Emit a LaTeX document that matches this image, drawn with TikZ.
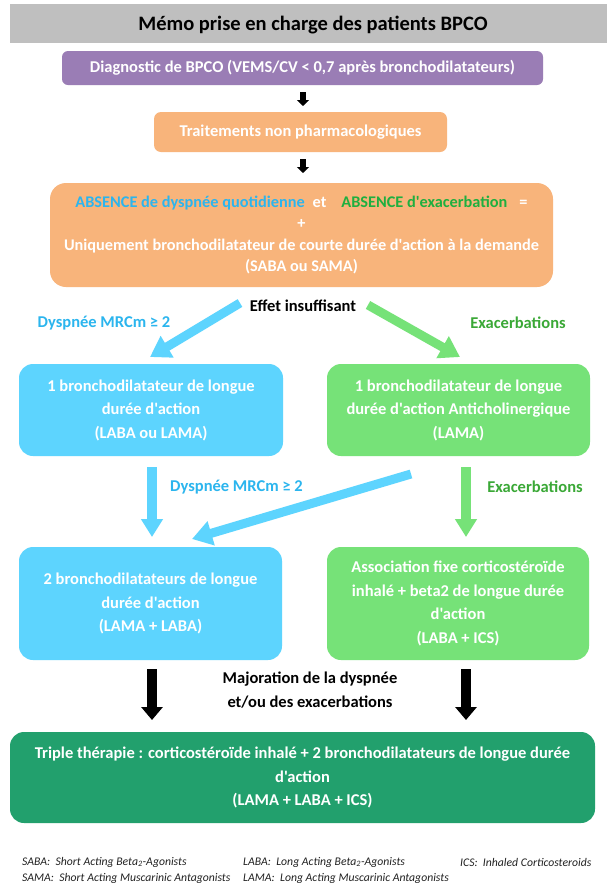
\documentclass[tikz,border=0pt]{standalone}
\usepackage{fontspec}
\setmainfont{Carlito}[Ligatures=TeXOff]
\usetikzlibrary{arrows.meta}
\definecolor{bandgray}{HTML}{BFBFBF}
\definecolor{purplebox}{HTML}{9A7DB5}
\definecolor{orangebox}{HTML}{F8B47B}
\definecolor{bluebox}{HTML}{5DD4FE}
\definecolor{greenbox}{HTML}{76E278}
\definecolor{darkgreen}{HTML}{22A06D}
\definecolor{bluetxt}{HTML}{2BB5EE}
\definecolor{greentxt}{HTML}{1FAF3F}
\definecolor{labgreen}{HTML}{3AA836}
\definecolor{notegray}{HTML}{222222}
\newcommand{\mybodyfont}{\fontsize{16.5}{23.5}\selectfont\bfseries}
\begin{document}
\begin{tikzpicture}[x=1pt,y=-1pt,
  boxbase/.style={draw=none, align=center, inner sep=0pt, text=white, font=\mybodyfont},
  lbl/.style={inner sep=0pt, font=\fontsize{16.5}{23.5}\selectfont\bfseries},
  note/.style={inner sep=0pt, anchor=west, text=notegray, font=\fontsize{11.7}{13}\selectfont\itshape},
  smallarrow/.style={draw=black, line width=6pt, -{Triangle[width=12pt,length=6pt]}},
  bigdown/.style={line width=10pt, -{Triangle[width=21pt,length=18pt]}},
  blackdown/.style={draw=black, line width=10pt, -{Triangle[width=21pt,length=13pt]}},
  diag/.style={line width=9pt, -{Triangle[width=24pt,length=20pt]}}
]
\useasboundingbox (0,0) rectangle (607,892);
\fill[white] (0,0) rectangle (607,892);

% title band
\node[fill=bandgray, minimum width=597pt, minimum height=39pt, inner sep=0pt] (band) at (308.5,23.5) {};
\node[inner sep=0pt, font=\fontsize{20.5}{22}\selectfont\bfseries] (title) at (313,25) {Mémo prise en charge des patients BPCO};

% boxes
\node[boxbase, fill=purplebox, rounded corners=6pt, minimum width=481pt, minimum height=34pt] (diag) at (302.5,68) {Diagnostic de BPCO (VEMS/CV < 0,7 après bronchodilatateurs)};
\node[boxbase, fill=orangebox, rounded corners=7pt, minimum width=293pt, minimum height=40pt] (nonph) at (300.5,132) {Traitements non pharmacologiques};
\node[boxbase, fill=orangebox, rounded corners=16pt, minimum width=503pt, minimum height=104pt, font=\fontsize{16.3}{21.3}\selectfont\bfseries] (saba) at (301.5,235)
  {{\color{bluetxt}ABSENCE de dyspnée quotidienne}\hspace{8pt}et\hspace{15pt}{\color{greentxt}ABSENCE d'exacerbation}\hspace{12pt}=\\ +\\ Uniquement bronchodilatateur de courte durée d'action à la demande\\ (SABA ou SAMA)};

\node[boxbase, fill=bluebox, rounded corners=14pt, minimum width=264pt, minimum height=92pt] (b1) at (151,410) {1 bronchodilatateur de longue\\ durée d'action\\ (LABA ou LAMA)};
\node[boxbase, fill=greenbox, rounded corners=14pt, minimum width=263pt, minimum height=92pt] (g1) at (458.5,410) {1 bronchodilatateur de longue\\ durée d'action Anticholinergique\\ (LAMA)};
\node[boxbase, fill=bluebox, rounded corners=14pt, minimum width=263pt, minimum height=113pt] (b2) at (150.5,603.5) {2 bronchodilatateurs de longue\\ durée d'action\\ (LAMA + LABA)};
\node[boxbase, fill=greenbox, rounded corners=14pt, minimum width=262pt, minimum height=113pt] (g2) at (458,603.5) {Association fixe corticostéroïde\\ inhalé + beta2 de longue durée\\ d'action\\ (LABA + ICS)};
\node[boxbase, fill=darkgreen, rounded corners=14pt, minimum width=585pt, minimum height=91pt] (triple) at (302.5,777.5) {Triple thérapie : corticostéroïde inhalé + 2 bronchodilatateurs de longue durée\\ d'action\\ (LAMA + LABA + ICS)};

% arrow end points
\coordinate (a1s) at (303,92);  \coordinate (a1e) at (303,106);
\coordinate (a2s) at (303,159); \coordinate (a2e) at (303,173);
\coordinate (bd1s) at (240,303); \coordinate (bd1e) at (150,357);
\coordinate (gd1s) at (368,305); \coordinate (gd1e) at (460,357);
\coordinate (bvs) at (152,467); \coordinate (bve) at (152,537);
\coordinate (gvs) at (466,467); \coordinate (gve) at (466,537);
\coordinate (bd2s) at (411,474); \coordinate (bd2e) at (192,539);
\coordinate (kls) at (152,669); \coordinate (kle) at (152,720);
\coordinate (krs) at (466,669); \coordinate (kre) at (466,720);

\draw[smallarrow] (a1s) -- (a1e);
\draw[smallarrow] (a2s) -- (a2e);
\draw[diag, draw=bluebox, fill=bluebox] (bd1s) -- (bd1e);
\draw[diag, draw=greenbox, fill=greenbox] (gd1s) -- (gd1e);
\draw[bigdown, draw=bluebox, fill=bluebox] (bvs) -- (bve);
\draw[bigdown, draw=greenbox, fill=greenbox] (gvs) -- (gve);
\draw[diag, draw=bluebox, fill=bluebox] (bd2s) -- (bd2e);
\draw[blackdown, fill=black] (kls) -- (kle);
\draw[blackdown, fill=black] (krs) -- (kre);

% labels
\node[lbl] (effet) at (303,306) {Effet insuffisant};
\node[lbl, text=bluetxt] (dysp1) at (104,323) {Dyspnée MRCm ≥ 2};
\node[lbl, text=labgreen] (exa1) at (518,323) {Exacerbations};
\node[lbl, text=bluetxt, anchor=west] (dysp2) at (170,487) {Dyspnée MRCm ≥ 2};
\node[lbl, text=labgreen] (exa2) at (535,487) {Exacerbations};
\node[lbl, align=center, font=\fontsize{16.5}{24}\selectfont\bfseries] (major) at (310,690) {Majoration de la dyspnée\\ et/ou des exacerbations};

% footnotes
\node[note] (n1) at (22,862) {SABA:\ \ Short Acting Beta\textsubscript{2}-Agonists};
\node[note] (n2) at (22,878) {SAMA:\ \ Short Acting Muscarinic Antagonists};
\node[note] (n3) at (243,862) {LABA:\ \ Long Acting Beta\textsubscript{2}-Agonists};
\node[note] (n4) at (243,878) {LAMA:\ \ Long Acting Muscarinic Antagonists};
\node[note] (n5) at (460,862) {ICS:\ \ Inhaled Corticosteroids};
\end{tikzpicture}
\end{document}
